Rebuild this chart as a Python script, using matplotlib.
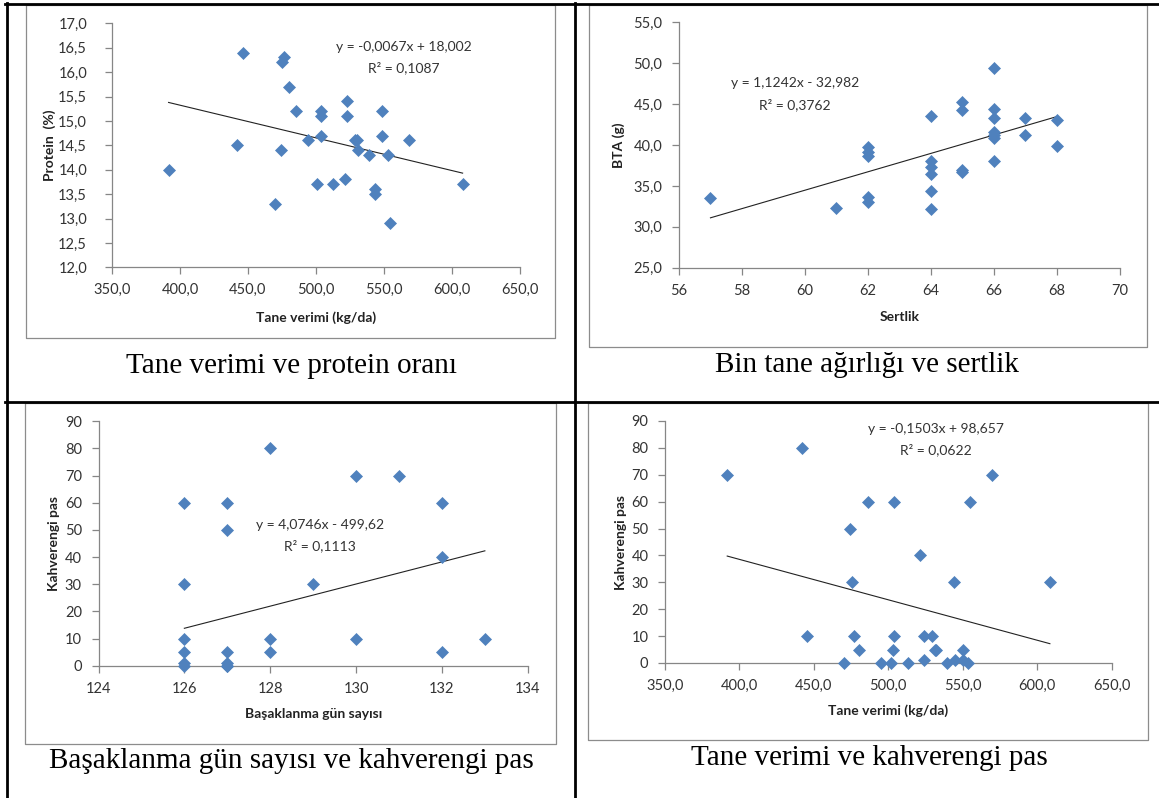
import numpy as np
import matplotlib
matplotlib.use("Agg")
import matplotlib.pyplot as plt
from matplotlib.lines import Line2D

W, H = 1159, 798

# -----------------------------
# Data
# -----------------------------
# Panel 1: tane verimi vs protein
prot_x = [391.6, 441.9, 446.0, 470.0, 474.6, 475.0, 476.6, 480.5, 485.4, 494.4,
          501.0, 503.4, 503.4, 504.0, 512.6, 521.3, 523.0, 523.0, 529.0, 530.0,
          531.0, 539.0, 543.5, 543.5, 548.5, 548.5, 552.6, 554.5, 568.4, 607.8]
prot_y = [14.0, 14.5, 16.4, 13.3, 14.4, 16.2, 16.3, 15.7, 15.2, 14.6,
          13.7, 15.2, 15.1, 14.7, 13.7, 13.8, 15.4, 15.1, 14.6, 14.6,
          14.4, 14.3, 13.6, 13.5, 15.2, 14.7, 14.3, 12.9, 14.6, 13.7]
prot_fit = [-0.0067, 18.002]

# Panel 2: sertlik vs BTA
sert_x = [57, 61, 62, 62, 62, 62, 62, 64, 64, 64, 64, 64, 64, 65, 65, 65, 65,
          66, 66, 66, 66, 66, 66, 66, 67, 67, 68, 68]
bta_y = [33.5, 32.3, 39.7, 39.2, 38.7, 33.7, 33.0, 43.6, 38.0, 37.3, 36.5, 34.4, 32.2,
         45.3, 44.3, 36.9, 36.7, 49.4, 44.4, 43.3, 41.6, 41.2, 40.8, 38.0,
         43.3, 41.2, 43.0, 39.9]
bta_fit = [1.1242, -32.982]

# Panel 3: basaklanma gun sayisi vs kahverengi pas
bas_x = [126, 126, 126, 126, 126, 126, 127, 127, 127, 127, 127, 127,
         128, 128, 128, 129, 130, 130, 131, 132, 132, 132, 133]
bas_y = [60, 30, 10, 5, 1, 0, 60, 50, 5, 1, 0, 0,
         80, 10, 5, 30, 70, 10, 70, 60, 40, 5, 10]
bas_fit = [4.0746, -499.62]

# Panel 4: tane verimi vs kahverengi pas
tv_x = [391.8, 442.0, 445.7, 470.5, 474.3, 475.5, 476.8, 480.5, 486.7, 495.4,
        501.6, 503.4, 504.0, 504.0, 513.5, 521.5, 524.0, 524.0, 529.7, 531.5,
        532.0, 539.4, 544.4, 545.0, 550.0, 550.0, 553.8, 555.0, 569.5, 608.6]
tv_y = [70, 80, 10, 0, 50, 30, 10, 5, 60, 0,
        0, 5, 60, 10, 0, 40, 10, 1, 10, 5,
        5, 0, 30, 1, 5, 1, 0, 60, 70, 30]
tv_fit = [-0.1503, 98.657]

# -----------------------------
# Styling
# -----------------------------
plt.rcParams["font.family"] = ["Lato", "DejaVu Sans"]
blue = "#4F81BD"
axis_gray = "#868686"
text_dark = "#333333"
tick_fs = 10.5
label_fs = 10
eq_fs = 10
cap_fs = 21

fig = plt.figure(figsize=(W / 100, H / 100), dpi=100)


def px_axes(x0, x1, y0, y1):
    # pixel box (left, right, top, bottom) -> axes
    return fig.add_axes([x0 / W, 1 - y1 / H, (x1 - x0) / W, (y1 - y0) / H])


def fig_text(x, y, s, **kw):
    fig.text(x / W, 1 - y / H, s, ha="center", va="center", **kw)


def frame(x0, x1, y0, y1):
    fig.add_artist(Line2D([x0 / W, x1 / W, x1 / W, x0 / W, x0 / W],
                          [1 - y0 / H, 1 - y0 / H, 1 - y1 / H, 1 - y1 / H, 1 - y0 / H],
                          transform=fig.transFigure, color="#8c8c8c", lw=0.9))


panels = [
    dict(box=(112, 520, 23.3, 267.3), frame=(26, 555, 5, 338),
         x=prot_x, y=prot_y, fit=prot_fit,
         xlim=(350, 650), xticks=np.arange(350, 651, 50), xfmt="{:.1f}",
         ylim=(12, 17), yticks=np.arange(12, 17.01, 0.5), yfmt="{:.1f}",
         xlabel="Tane verimi (kg/da)", ylabel="Protein  (%)",
         ylab_x=50, xlab_y=318, ypad=13,
         eq=("y = -0,0067x + 18,002", "R² = 0,1087"), eq_pos=(404, 47, 68),
         cap="Tane verimi ve protein oranı", cap_pos=(291, 366)),
    dict(box=(679, 1119.5, 22.3, 267.7), frame=(589, 1147, 5, 347),
         x=sert_x, y=bta_y, fit=bta_fit,
         xlim=(56, 70), xticks=np.arange(56, 71, 2), xfmt="{:.0f}",
         ylim=(25, 55), yticks=np.arange(25, 56, 5), yfmt="{:.1f}",
         xlabel="Sertlik", ylabel="BTA (g)",
         ylab_x=619, xlab_y=317, ypad=7,
         eq=("y = 1,1242x - 32,982", "R² = 0,3762"), eq_pos=(795, 83, 105),
         cap="Bin tane ağırlığı ve sertlik", cap_pos=(867, 365)),
    dict(box=(98.5, 527.8, 421.3, 665.7), frame=(25, 556, 403, 744),
         x=bas_x, y=bas_y, fit=bas_fit,
         xlim=(124, 134), xticks=np.arange(124, 135, 2), xfmt="{:.0f}",
         ylim=(0, 90), yticks=np.arange(0, 91, 10), yfmt="{:.0f}",
         xlabel="Başaklanma gün sayısı", ylabel="Kahverengi pas",
         ylab_x=54, xlab_y=714, ypad=7,
         eq=("y = 4,0746x - 499,62", "R² = 0,1113"), eq_pos=(320, 525, 546),
         cap="Başaklanma gün sayısı ve kahverengi pas", cap_pos=(291, 761)),
    dict(box=(665, 1111.5, 421, 663), frame=(588, 1148, 403, 740),
         x=tv_x, y=tv_y, fit=tv_fit,
         xlim=(350, 650), xticks=np.arange(350, 651, 50), xfmt="{:.1f}",
         ylim=(0, 90), yticks=np.arange(0, 91, 10), yfmt="{:.0f}",
         xlabel="Tane verimi (kg/da)", ylabel="Kahverengi pas",
         ylab_x=621, xlab_y=711, ypad=7,
         eq=("y = -0,1503x + 98,657", "R² = 0,0622"), eq_pos=(936, 429, 450),
         cap="Tane verimi ve kahverengi pas", cap_pos=(869, 758)),
]

for p in panels:
    x0, x1, y0, y1 = p["box"]
    ax = px_axes(x0, x1, y0, y1)
    frame(*p["frame"])

    ax.plot(p["x"], p["y"], linestyle="none", marker="D", ms=6,
            color=blue, mec=blue, mew=0.5, zorder=3, clip_on=False)
    xs = np.array([min(p["x"]), max(p["x"])], dtype=float)
    ax.plot(xs, p["fit"][0] * xs + p["fit"][1], color="#222222", lw=0.8, zorder=2)

    ax.set_xlim(*p["xlim"])
    ax.set_ylim(*p["ylim"])
    ax.set_xticks(p["xticks"])
    ax.set_yticks(p["yticks"])
    ax.set_xticklabels([p["xfmt"].format(v).replace(".", ",") for v in p["xticks"]])
    ax.set_yticklabels([p["yfmt"].format(v).replace(".", ",") for v in p["yticks"]])

    for s in ["top", "right"]:
        ax.spines[s].set_visible(False)
    for s in ["left", "bottom"]:
        ax.spines[s].set_color(axis_gray)
        ax.spines[s].set_linewidth(0.9)
    ax.patch.set_alpha(0)
    ax.tick_params(axis="both", direction="out", length=5, width=0.9,
                   color=axis_gray, labelcolor=text_dark, labelsize=tick_fs)
    ax.tick_params(axis="x", pad=6.5)
    ax.tick_params(axis="y", pad=p["ypad"])

    fig_text((x0 + x1) / 2, p["xlab_y"], p["xlabel"], fontsize=label_fs,
             fontweight="bold", color="#222222")
    fig_text(p["ylab_x"], (y0 + y1) / 2, p["ylabel"], fontsize=label_fs,
             fontweight="bold", color="#222222", rotation=90)

    ex, ey1, ey2 = p["eq_pos"]
    fig_text(ex, ey1, p["eq"][0], fontsize=eq_fs, color=text_dark)
    fig_text(ex, ey2, p["eq"][1], fontsize=eq_fs, color=text_dark)

    cx, cy = p["cap_pos"]
    fig_text(cx, cy, p["cap"], fontsize=cap_fs, family="Liberation Serif", color="black")

# table lines
tbl = dict(transform=fig.transFigure, color="black", lw=2)
fig.add_artist(Line2D([5 / W, 1], [1 - 4 / H, 1 - 4 / H], **tbl))
fig.add_artist(Line2D([5 / W, 1], [1 - 402 / H, 1 - 402 / H], **tbl))
fig.add_artist(Line2D([6.5 / W, 6.5 / W], [1 - 3 / H, 0], **tbl))
fig.add_artist(Line2D([575 / W, 575 / W], [1 - 3 / H, 0], **tbl))

fig.savefig("out.png", dpi=100)
